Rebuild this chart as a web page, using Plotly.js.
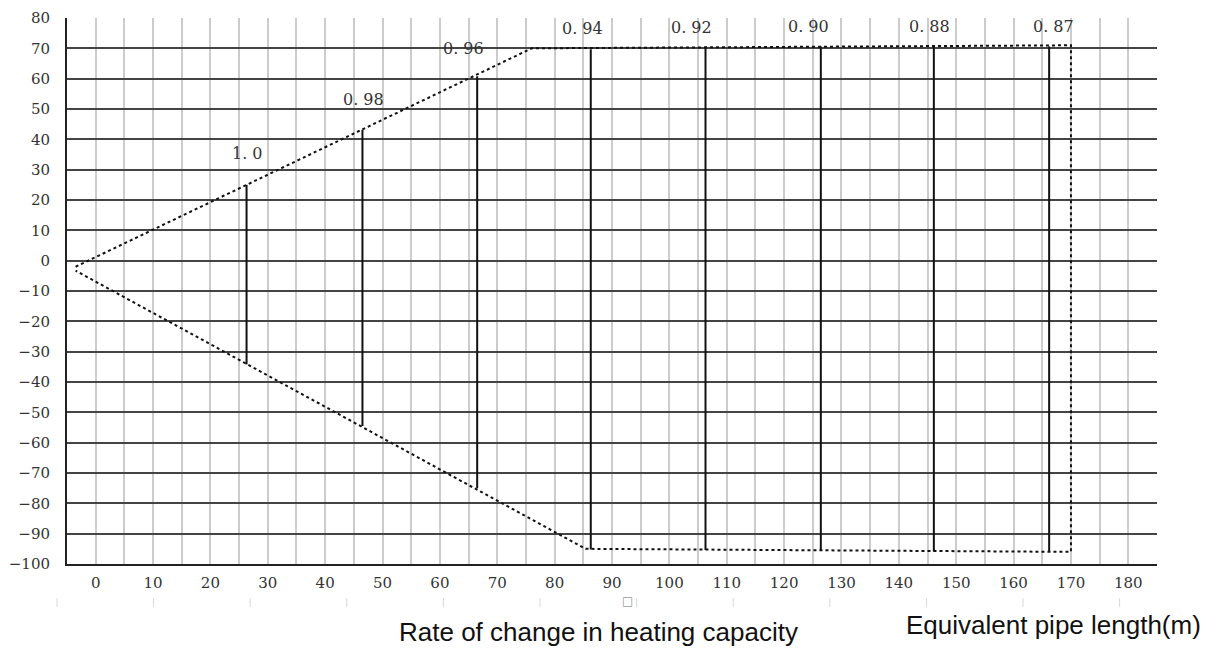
<!DOCTYPE html>
<html>
<head>
<meta charset="utf-8">
<script src="https://cdn.plot.ly/plotly-3.0.1.min.js"></script>
<style>html,body{margin:0;padding:0;background:#fff;}#chart{width:1208px;height:648px;}</style>
</head>
<body>
<div id="chart"></div>
<script>
// Envelope of the allowed region (dotted outline)
var envelopeX = [-3.5, 76, 170, 170, 85.4, -3.5];
var envelopeY = [-2, 70, 71, -96, -95, -3.3];

// Equivalent pipe length (m) where each capacity-rate line sits
var pipeLength = [26.3, 46.5, 66.5, 86.3, 106.3, 126.4, 146.1, 166.2];
var lineTop    = [25, 43.2, 60.8, 69.7, 70.2, 70.6, 70.8, 70.6];
var lineBottom = [-34.2, -54.5, -75, -95.2, -95.4, -95.6, -95.9, -96];

// Heating capacity change rate labels
var rateLabels = ["1. 0", "0. 98", "0. 96", "0. 94", "0. 92", "0. 90", "0. 88", "0. 87"];
var labelX = [26.4, 46.7, 64.2, 84.8, 103.9, 124.2, 145.3, 167];
var labelY = [35.3, 53, 69.8, 76.7, 76.8, 77.2, 77.2, 77.2];

// Axis ticks
var xTicks = [0, 10, 20, 30, 40, 50, 60, 70, 80, 90, 100, 110, 120, 130, 140, 150, 160, 170, 180];
var yTicks = [80, 70, 60, 50, 40, 30, 20, 10, 0, -10, -20, -30, -40, -50, -60, -70, -80, -90, -100];

var segX = [], segY = [];
for (var i = 0; i < pipeLength.length; i++) {
  segX.push(pipeLength[i], pipeLength[i], null);
  segY.push(lineTop[i], lineBottom[i], null);
}

var traces = [
  {x: envelopeX, y: envelopeY, mode: 'lines', type: 'scatter',
   line: {color: '#111', width: 2, dash: 'dot'}, hoverinfo: 'skip'},
  {x: segX, y: segY, mode: 'lines', type: 'scatter',
   line: {color: '#111', width: 2}, hoverinfo: 'skip'}
];

var annotations = rateLabels.map(function (t, i) {
  return {x: labelX[i], y: labelY[i], xref: 'x', yref: 'y', text: t, showarrow: false,
          font: {family: 'DejaVu Serif, Liberation Serif, serif', size: 16, color: '#333'}};
});
annotations.push({xref: 'paper', yref: 'paper', x: 0.4876, y: -0.1245, xanchor: 'center', yanchor: 'middle',
  text: 'Rate of change in heating capacity', showarrow: false,
  font: {family: 'Liberation Sans, Arial, sans-serif', size: 26, color: '#111'}});
annotations.push({xref: 'paper', yref: 'paper', x: 1.0425, y: -0.1117, xanchor: 'right', yanchor: 'middle',
  text: 'Equivalent pipe length(m)', showarrow: false,
  font: {family: 'Liberation Sans, Arial, sans-serif', size: 26, color: '#111'}});
annotations.push({xref: 'paper', yref: 'paper', x: 0.5138, y: -0.068, xanchor: 'center', yanchor: 'middle',
  text: '□', showarrow: false, font: {family: 'DejaVu Sans', size: 12, color: '#999'}});

// faint tick marks below axis labels (scan artefacts)
var shapes = [];
for (var k = 0; k < 12; k++) {
  var px = 57 + k * 96.6;
  var fx = (px - 67) / 1090;
  shapes.push({type: 'line', xref: 'paper', yref: 'paper', x0: fx, x1: fx, y0: -0.0623, y1: -0.0788,
               line: {color: '#d8d8d8', width: 1}});
}

var layout = {
  width: 1208, height: 648,
  margin: {l: 67, r: 51, t: 18, b: 84},
  paper_bgcolor: '#fff', plot_bgcolor: '#fff',
  showlegend: false,
  xaxis: {range: [-5, 185], tickvals: xTicks, ticks: '', showgrid: true, gridcolor: '#cccccc', gridwidth: 2,
          minor: {dtick: 5, tick0: 0, showgrid: true, gridcolor: '#cccccc', gridwidth: 2},
          zeroline: false, showline: true, linecolor: '#222', linewidth: 2, mirror: false,
          ticklabelstandoff: 4,
          tickfont: {family: 'DejaVu Serif, Liberation Serif, serif', size: 15, color: '#333'}},
  yaxis: {range: [-100, 80], tickvals: yTicks, ticks: '', showgrid: true, gridcolor: '#444', gridwidth: 2,
          zeroline: false, showline: true, linecolor: '#222', linewidth: 2,
          ticklabelstandoff: 12,
          tickfont: {family: 'DejaVu Serif, Liberation Serif, serif', size: 15, color: '#333'}},
  annotations: annotations,
  shapes: shapes
};

Plotly.newPlot('chart', traces, layout, {displayModeBar: false});
</script>
</body>
</html>
